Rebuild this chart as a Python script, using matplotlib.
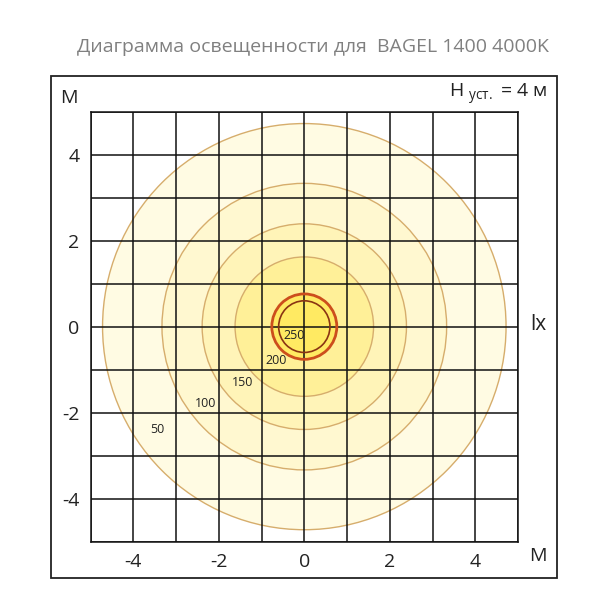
import matplotlib
matplotlib.use("Agg")
import matplotlib.pyplot as plt
from matplotlib.patches import Circle, Rectangle
import numpy as np

plt.rcParams['font.family'] = ['Open Sans', 'DejaVu Sans']
plt.rcParams['axes.unicode_minus'] = False

# изолинии освещенности (лк) и их радиусы, м
levels = [50, 100, 150, 200, 250]
radii = [4.72, 3.33, 2.39, 1.62, 0.76]
inner_ring = 0.60
fills = ['#fffbe3', '#fff8d0', '#fff4b8', '#fff098', '#ffea62']
label_pos = [(-3.44, -2.39), (-2.31, -1.79), (-1.45, -1.31), (-0.67, -0.78), (-0.24, -0.20)]

ticks = [-4, -2, 0, 2, 4]

fig = plt.figure(figsize=(6.08, 6.06), dpi=100)
ax = fig.add_axes([0.149, 0.106, 0.703, 0.710])

for r, c in zip(radii, fills):
    ax.add_patch(Circle((0, 0), r, facecolor=c, edgecolor='none', zorder=1))
for r in radii[:-1]:
    ax.add_patch(Circle((0, 0), r, facecolor='none', edgecolor='#d6ad6c', lw=1.0, zorder=2))
ax.add_patch(Circle((0, 0), radii[-1], facecolor='none', edgecolor='#cc4e1c', lw=2.0, zorder=4))
ax.add_patch(Circle((0, 0), inner_ring, facecolor='none', edgecolor='#8a3412', lw=1.2, zorder=4))

for lv, (x, y) in zip(levels, label_pos):
    ax.text(x, y, str(lv), fontsize=9, color='#222222', ha='center', va='center', zorder=5)

ax.set_xlim(-5, 5)
ax.set_ylim(-5, 5)
ax.set_xticks(ticks)
ax.set_yticks(ticks)
ax.set_xticks(np.arange(-5, 6), minor=True)
ax.set_yticks(np.arange(-5, 6), minor=True)
ax.grid(which='both', color='#111111', lw=1.1, zorder=3)
ax.set_axisbelow(False)
ax.tick_params(which='both', length=0, labelsize=14, colors='#222222', pad=8)
for s in ax.spines.values():
    s.set_color('#111111')
    s.set_linewidth(1.1)

# внешняя рамка
fig.add_artist(Rectangle((0.084, 0.046), 0.832, 0.828, transform=fig.transFigure,
                         fill=False, edgecolor='#222222', lw=1.3))

fig.text(0.515, 0.922, 'Диаграмма освещенности для  BAGEL 1400 4000K',
         fontsize=14.0, color='#808080', ha='center', va='center')
fig.text(0.113, 0.838, 'М', fontsize=14, color='#222222', ha='center', va='center')
fig.text(0.885, 0.082, 'М', fontsize=14, color='#222222', ha='center', va='center')
fig.text(0.885, 0.465, 'lx', fontsize=15, color='#222222', ha='center', va='center')
fig.text(0.900, 0.845, r'H $\mathregular{_{уст.}}$ = 4 м', fontsize=14, color='#222222',
         ha='right', va='center')

fig.savefig('out.png', dpi=100, facecolor='white')
